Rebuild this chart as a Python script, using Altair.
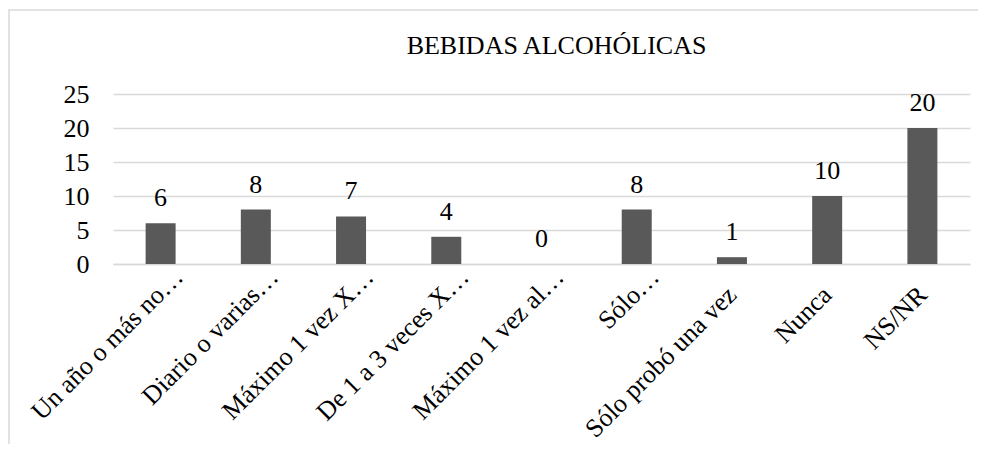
import altair as alt
import pandas as pd

categories = ["Un año o más no…", "Diario o varias…", "Máximo 1 vez X…", "De 1 a 3 veces X…",
              "Máximo 1 vez al…", "Sólo…", "Sólo probó una vez", "Nunca", "NS/NR"]
values = [6, 8, 7, 4, 0, 8, 1, 10, 20]
y_ticks = [0, 5, 10, 15, 20, 25]
title_text = "BEBIDAS ALCOHÓLICAS"

df = pd.DataFrame({"cat": categories, "val": values})
FONT = "Liberation Serif"
GRID = "#d9d9d9"
FS = 26

x_enc = alt.X(
    "cat:N", sort=categories,
    scale=alt.Scale(paddingInner=0.685, paddingOuter=0.3425),
    axis=alt.Axis(
        title=None, labelAngle=-45, labelAlign="right", labelBaseline="alphabetic",
        labelFont=FONT, labelFontSize=FS, labelColor="black", ticks=False,
        domainColor=GRID, domainWidth=1.5, labelLimit=500, labelOverlap=False,
        labelOffset={"condition": {"test": "indexof(datum.label, '…') >= 0", "value": 24}, "value": 6},
        labelPadding={"condition": {"test": "indexof(datum.label, '…') >= 0", "value": 14}, "value": 32},
    ),
)
y_enc = alt.Y(
    "val:Q",
    scale=alt.Scale(domain=[0, 25], nice=False),
    axis=alt.Axis(
        title=None, values=y_ticks, domain=False, ticks=False, labelPadding=24,
        labelFont=FONT, labelFontSize=FS, labelColor="black", labelOverlap=False,
        gridColor=GRID, gridWidth=1.5,
    ),
)

base = alt.Chart(df)
bars = base.mark_bar(color="#595959").encode(x=x_enc, y=y_enc)
labels = base.mark_text(dy=-17, baseline="alphabetic", font=FONT, fontSize=FS, color="black").encode(
    x=x_enc, y=y_enc, text="val:Q"
)
frame = alt.Chart(pd.DataFrame({"f": [0]})).mark_rect(
    fillOpacity=0, stroke=GRID, strokeWidth=1.5, clip=False
).encode(x=alt.value(-104), x2=alt.value(1100), y=alt.value(-84), y2=alt.value(700))

chart = alt.layer(bars, labels, frame).properties(
    width=857, height=170,
    title=alt.TitleParams(
        title_text, font=FONT, fontSize=FS, fontWeight="normal", color="black",
        anchor="middle", dx=15, baseline="alphabetic", offset=-71, frame="group",
    ),
    autosize=alt.AutoSizeParams(type="none"),
    padding={"left": 105, "top": 86, "right": 8, "bottom": 180},
).configure_view(stroke=None)

chart.save("out.html", embed_options={"renderer": "svg", "actions": False})
